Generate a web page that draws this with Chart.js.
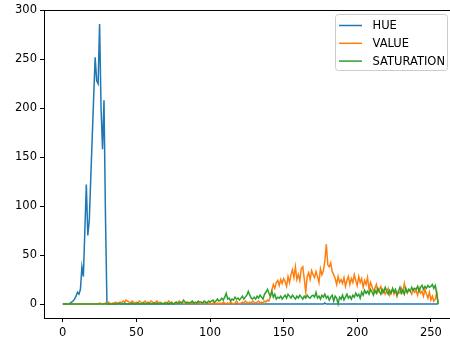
<!DOCTYPE html>
<html>
<head>
<meta charset="utf-8">
<script src="https://cdn.jsdelivr.net/npm/chart.js@4.4.1/dist/chart.umd.min.js"></script>
<style>
html, body { margin: 0; padding: 0; background: #fff; overflow: hidden; }
#wrap { position: absolute; left: 0; top: 0; width: 460px; height: 342px; }
</style>
</head>
<body>
<div id="wrap"><canvas id="chart" width="460" height="342"></canvas></div>
<script>
const xTicks = [0, 50, 100, 150, 200, 250];
const yTicks = [0, 50, 100, 150, 200, 250, 300];
const seriesNames = ['HUE', 'VALUE', 'SATURATION'];

// histogram counts per bin 0..255, rows of 10
const hue = [
  0,0,0,0,0,1,2,3,5,8,
  12,10,15,38,28,75,122,70,85,128,
  170,212,252,228,225,286,200,158,208,90,
  0,0,0,0,0,0,0,0,0,0,
  0,0,0,0,0,0,0,0,0,0,
  0,0,0,0,0,0,0,0,0,0,
  0,0,0,0,0,0,0,0,0,0,
  0,0,0,0,0,0,0,0,0,0,
  0,0,0,0,0,0,0,0,0,0,
  0,0,0,0,0,0,0,0,0,0,
  0,0,0,0,0,0,0,0,0,0,
  0,0,0,0,0,0,0,0,0,0,
  0,0,0,0,0,0,0,0,0,0,
  0,0,0,0,0,0,0,0,0,0,
  0,0,0,0,0,0,0,0,0,0,
  0,0,0,0,0,0,0,0,0,0,
  0,0,0,0,0,0,0,0,0,0,
  0,0,0,0,0,0,0,0,1,0,
  0,0,0,0,0,0,0,0,0,0,
  0,0,0,0,0,0,0,0,0,0,
  0,0,0,0,0,0,0,0,0,0,
  0,0,0,0,0,0,0,0,0,0,
  0,0,0,0,0,0,0,0,0,0,
  0,0,0,0,0,0,0,0,0,0,
  0,0,0,0,0,0,0,0,0,0,
  0,0,0,0,0,0
];

const value = [
  0,0,0,0,0,0,0,0,0,0,
  0,0,0,0,0,0,0,0,0,0,
  0,0,0,0,0,1,0,0,0,1,
  1,2,1,0,1,1,2,1,0,2,
  1,3,2,4,3,2,1,3,2,1,
  2,1,3,2,1,2,3,1,2,1,
  3,2,1,2,3,1,2,1,0,1,
  2,1,3,1,2,0,1,2,1,3,
  1,2,0,1,2,1,0,1,2,1,
  0,1,2,1,0,1,0,2,1,0,
  1,0,1,2,0,1,0,1,0,2,
  1,0,1,0,2,1,0,1,3,1,
  0,1,2,1,3,2,1,2,1,3,
  2,1,2,3,1,2,1,3,2,4,
  3,8,14,20,16,22,24,19,25,21,
  26,23,18,28,22,30,35,27,38,25,
  30,24,36,38,26,12,28,32,25,34,
  30,27,33,28,22,36,30,34,44,61,
  40,38,42,33,30,26,20,28,22,25,
  21,27,18,24,28,20,26,22,30,24,
  19,28,22,26,17,24,20,27,15,22,
  18,13,16,20,12,15,18,11,14,10,
  13,16,9,12,15,10,14,8,13,11,
  16,12,21,14,11,15,13,10,15,12,
  14,9,16,11,13,8,15,10,6,12,
  4,8,3,5,12,0
];

const saturation = [
  0,0,0,0,0,0,0,0,0,0,
  0,0,0,0,0,0,0,0,0,0,
  0,0,0,0,0,0,0,0,0,0,
  0,0,0,0,0,0,0,0,1,0,
  0,0,1,0,0,0,0,1,0,0,
  0,1,0,0,0,1,0,0,1,0,
  0,0,1,0,1,0,0,1,0,1,
  0,1,0,1,1,0,1,2,1,1,
  2,1,4,2,1,2,1,2,3,1,
  2,1,3,2,2,1,3,2,1,3,
  2,3,4,2,3,5,3,4,6,4,
  7,11,5,6,3,5,4,7,5,6,
  4,6,8,5,7,9,13,9,6,5,
  7,5,8,6,9,7,5,10,12,15,
  11,8,13,7,10,5,7,6,8,5,
  7,9,6,10,8,6,9,7,5,8,
  6,9,7,5,8,6,9,7,6,8,
  9,7,12,6,8,5,9,7,10,6,
  8,4,7,9,3,8,6,0,7,5,
  9,4,7,10,6,8,5,9,7,11,
  8,10,6,12,9,14,11,13,10,15,
  12,9,14,11,16,13,10,15,12,17,
  13,10,14,11,16,12,15,9,13,17,
  11,14,10,16,12,15,13,17,14,16,
  15,18,13,17,19,15,18,16,19,17,
  18,20,16,19,10,0
];

const colors = ['#1f77b4', '#ff7f0e', '#2ca02c'];
const FONT = { family: 'DejaVu Sans', size: 11.5 };

function toPoints(arr) {
  return arr.map((v, i) => ({ x: i, y: v }));
}

// black frame around the axes, like the matplotlib spines
const frame = {
  id: 'frame',
  afterDatasetsDraw(chart) {
    const { ctx, chartArea: a } = chart;
    ctx.save();
    ctx.strokeStyle = '#000';
    ctx.lineWidth = 1;
    ctx.strokeRect(Math.round(a.left) + 0.5, Math.round(a.top) + 0.5,
      Math.round(a.right - a.left), Math.round(a.bottom - a.top));
    ctx.restore();
  }
};

// legend box in the upper right corner
const legendBox = {
  id: 'legendBox',
  afterDraw(chart) {
    const ctx = chart.ctx;
    const x = 335.5, y = 14.5, w = 112, h = 56, r = 3;
    ctx.save();
    ctx.beginPath();
    ctx.moveTo(x + r, y);
    ctx.arcTo(x + w, y, x + w, y + h, r);
    ctx.arcTo(x + w, y + h, x, y + h, r);
    ctx.arcTo(x, y + h, x, y, r);
    ctx.arcTo(x, y, x + w, y, r);
    ctx.closePath();
    ctx.fillStyle = 'rgba(255,255,255,0.8)';
    ctx.fill();
    ctx.strokeStyle = '#cccccc';
    ctx.lineWidth = 1;
    ctx.stroke();
    ctx.font = FONT.size + 'px ' + FONT.family;
    ctx.textBaseline = 'middle';
    ctx.fillStyle = '#000';
    seriesNames.forEach((name, i) => {
      const ly = 25.5 + i * 17.8;
      ctx.beginPath();
      ctx.moveTo(339, ly);
      ctx.lineTo(362, ly);
      ctx.strokeStyle = colors[i];
      ctx.lineWidth = 1.5;
      ctx.stroke();
      ctx.fillText(name, 372.5, ly + 0.5);
    });
    ctx.restore();
  }
};

new Chart(document.getElementById('chart'), {
  type: 'line',
  data: {
    datasets: [
      { label: seriesNames[0], data: toPoints(hue), borderColor: colors[0], order: 2 },
      { label: seriesNames[1], data: toPoints(value), borderColor: colors[1], order: 1 },
      { label: seriesNames[2], data: toPoints(saturation), borderColor: colors[2], order: 0 }
    ]
  },
  options: {
    responsive: false,
    animation: false,
    devicePixelRatio: 1,
    layout: { autoPadding: false, padding: { top: 10, right: 3, left: 0, bottom: 0 } },
    elements: {
      line: { borderWidth: 1.5, tension: 0, fill: false },
      point: { radius: 0 }
    },
    plugins: {
      legend: { display: false },
      tooltip: { enabled: false }
    },
    scales: {
      x: {
        type: 'linear',
        min: -12.75,
        max: 267.75,
        afterBuildTicks: s => { s.ticks = xTicks.map(v => ({ value: v })); },
        afterFit: s => { s.height = 24; },
        grid: { drawOnChartArea: false, tickLength: 4, color: '#000' },
        border: { display: false },
        ticks: { color: '#000', font: FONT, padding: 4, maxRotation: 0, autoSkip: false }
      },
      y: {
        min: -14.3,
        max: 300.3,
        afterBuildTicks: s => { s.ticks = yTicks.map(v => ({ value: v })); },
        afterFit: s => { s.width = 44; },
        grid: { drawOnChartArea: false, tickLength: 4, color: '#000' },
        border: { display: false },
        ticks: { color: '#000', font: FONT, padding: 3, autoSkip: false }
      }
    }
  },
  plugins: [frame, legendBox]
});
</script>
</body>
</html>
